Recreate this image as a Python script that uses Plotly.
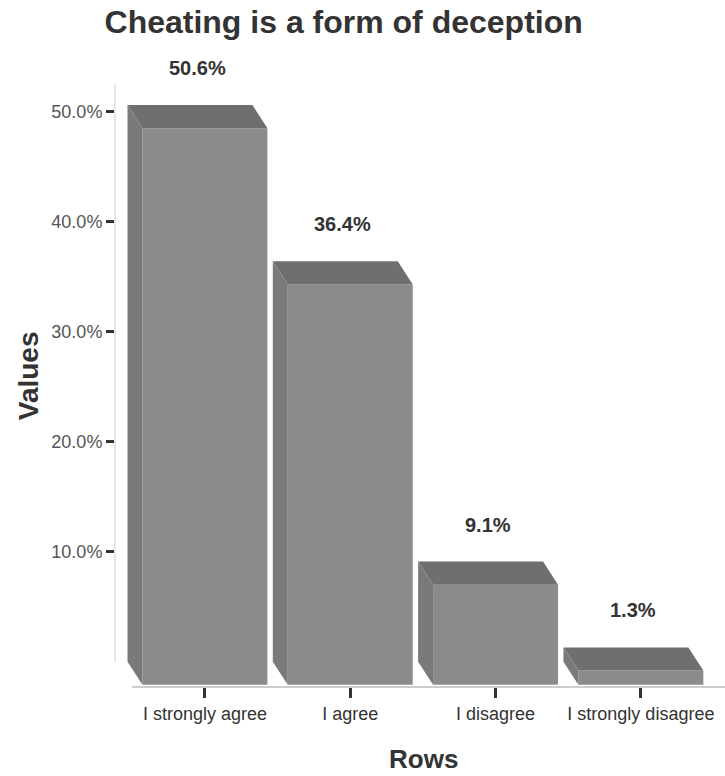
import plotly.graph_objects as go

# ---- data ----
categories = ["I strongly agree", "I agree", "I disagree", "I strongly disagree"]
values = [50.6, 36.4, 9.1, 1.3]
value_labels = ["50.6%", "36.4%", "9.1%", "1.3%"]
y_tickvals = [10, 20, 30, 40, 50]
y_ticktext = ["10.0%", "20.0%", "30.0%", "40.0%", "50.0%"]

positions = list(range(len(categories)))

# ---- 3D styling parameters ----
BAR_W = 0.86      # front-face width (x units)
DX = 0.103        # depth shift in x (x units)
DY = 2.1          # depth shift in y (value units)
FRONT = "#8b8b8b"
SIDE = "#7a7a7a"
TOP = "#6f6f6f"
FONT = "Liberation Sans, Arial, sans-serif"

fig = go.Figure()

# front faces
fig.add_trace(go.Bar(
    x=positions, y=values, base=[-DY] * len(values), width=BAR_W,
    marker=dict(color=FRONT, line=dict(width=0)), showlegend=False, hoverinfo="skip",
))

# top and left side faces
for c, v in zip(positions, values):
    l, r = c - BAR_W / 2, c + BAR_W / 2
    fig.add_trace(go.Scatter(
        x=[l - DX, r - DX, r, l, l - DX], y=[v, v, v - DY, v - DY, v],
        fill="toself", fillcolor=TOP, mode="lines", line=dict(width=0),
        showlegend=False, hoverinfo="skip",
    ))
    fig.add_trace(go.Scatter(
        x=[l - DX, l, l, l - DX, l - DX], y=[v, v - DY, -DY, 0, v],
        fill="toself", fillcolor=SIDE, mode="lines", line=dict(width=0),
        showlegend=False, hoverinfo="skip",
    ))

# value labels (centred over the back face, ~37px above its top)
for c, v, t in zip(positions, values, value_labels):
    fig.add_annotation(x=c - DX / 2, y=v, yshift=37, text=f"<b>{t}</b>", showarrow=False,
                       xanchor="center", yanchor="middle",
                       font=dict(family=FONT, size=20, color="#333333"))

# axis lines
fig.add_shape(type="line", xref="paper", yref="y", x0=0, x1=0, y0=0, y1=52.5,
              line=dict(color="#cfcfcf", width=1), layer="below")
fig.add_shape(type="line", xref="x", yref="paper", x0=-0.5, x1=3.579, y0=0, y1=0,
              line=dict(color="#9a9a9a", width=1), layer="below")

# axis titles
fig.add_annotation(xref="paper", yref="paper", x=-0.1426, y=0.512, text="<b>Values</b>",
                   textangle=-90, showarrow=False, xanchor="center", yanchor="middle",
                   font=dict(family=FONT, size=28, color="#333333"))
fig.add_annotation(xref="paper", yref="paper", x=0.505, y=-0.118, text="<b>Rows</b>",
                   showarrow=False, xanchor="center", yanchor="middle",
                   font=dict(family=FONT, size=26, color="#333333"))

fig.update_layout(
    width=725, height=776,
    margin=dict(l=115, r=0, t=80, b=89),
    paper_bgcolor="white", plot_bgcolor="white",
    title=dict(text="<b>Cheating is a form of deception</b>", xref="container", yref="container",
               x=0.474, y=1 - 22 / 776, xanchor="center", yanchor="middle",
               font=dict(family=FONT, size=32, color="#333333")),
    showlegend=False,
    xaxis=dict(range=[-0.619, 3.579], tickvals=positions, ticktext=categories,
               showgrid=False, zeroline=False, showline=False,
               ticks="outside", ticklen=10, tickwidth=3, tickcolor="#333333",
               tickfont=dict(family=FONT, size=18, color="#333333")),
    yaxis=dict(range=[-2.3, 52.88], tickvals=y_tickvals, ticktext=y_ticktext,
               showgrid=False, zeroline=False, showline=False,
               ticks="outside", ticklen=8, tickwidth=3, tickcolor="#333333",
               tickfont=dict(family=FONT, size=18, color="#555555")),
)

fig.write_html("out.html")
